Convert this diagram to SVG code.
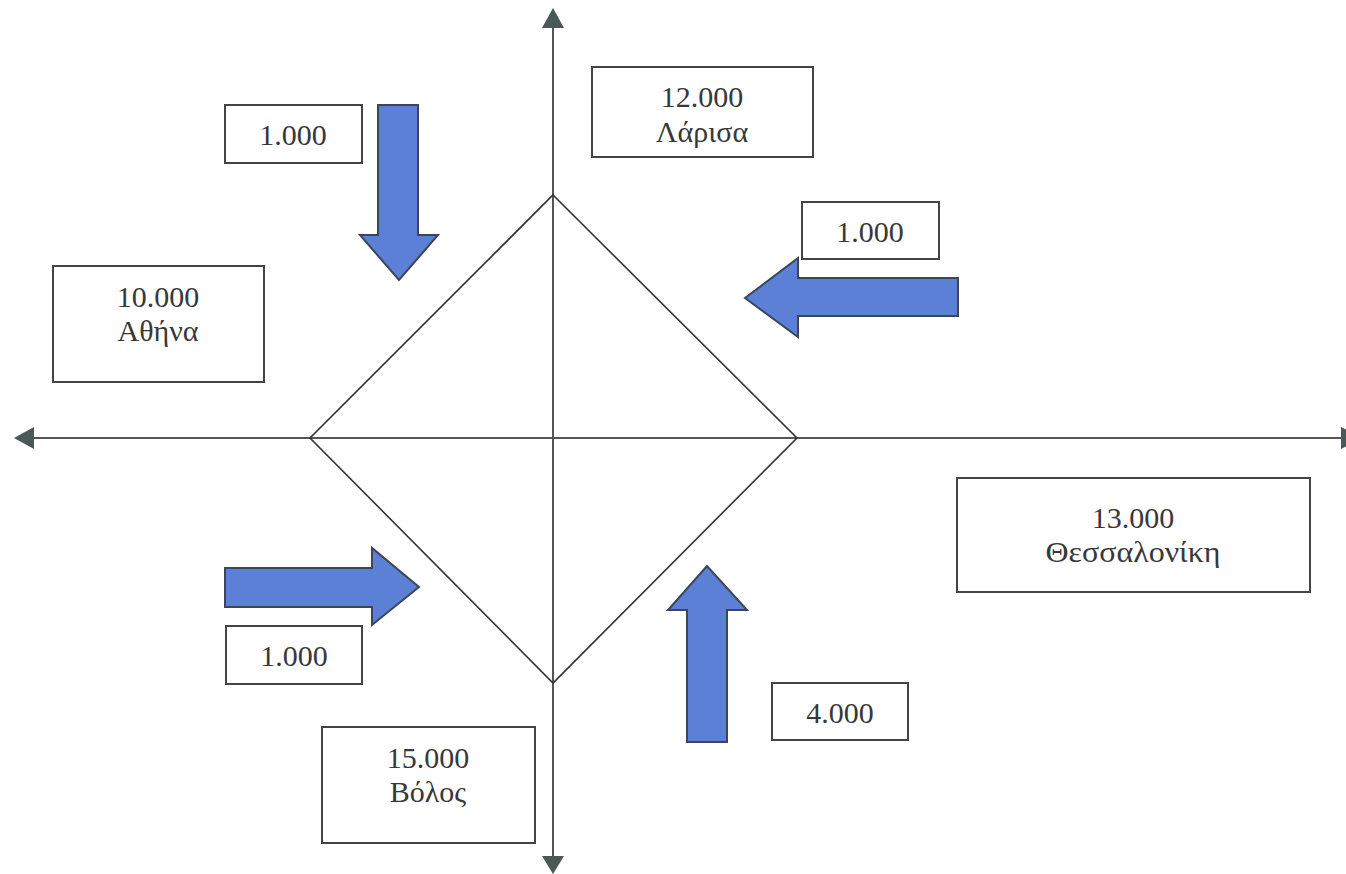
<svg xmlns="http://www.w3.org/2000/svg" width="1346" height="874" viewBox="0 0 1346 874">
<style>
.box{fill:#fff;stroke:#444;stroke-width:2}
.t{font-family:"Liberation Serif","Times New Roman",serif;font-size:30px;fill:#383838;text-anchor:middle}
.ax{stroke:#555;stroke-width:2;fill:none}
.dm{stroke:#333;stroke-width:1.6;fill:none}
.ar{fill:#5b80d6;stroke:#3b4656;stroke-width:2;stroke-linejoin:miter}
.ah{fill:#4c5855;stroke:none}
</style>
<rect width="1346" height="874" fill="#fff"/>
<g id="connectors">
<line class="ax" x1="553" y1="26" x2="553" y2="858"/>
<line class="ax" x1="32" y1="438" x2="1343" y2="438"/>
<polygon class="ah" points="553,8 542,28 564,28"/>
<polygon class="ah" points="553,874 542,856 564,856"/>
<polygon class="ah" points="14,438 34,427 34,449"/>
<polygon class="ah" points="1362,438 1341,427 1341,449"/>
<polygon class="dm" points="553,195 797,438 553,683 310,438"/>
</g>
<g id="arrow-down"><polygon class="ar" points="378,105 418,105 418,235 438,235 399,280 360,235 378,235"/></g>
<g id="arrow-left"><polygon class="ar" points="958,278 958,316 798,316 798,337 745,298 798,258 798,278"/></g>
<g id="arrow-right"><polygon class="ar" points="225,568 372,568 372,548 419,587 372,625 372,607 225,607"/></g>
<g id="arrow-up"><polygon class="ar" points="687,742 727,742 727,610 747,610 707,566 668,610 687,610"/></g>
<g id="box-1000-tl"><rect class="box" x="225" y="105" width="137" height="58"/><text class="t" x="293" y="145">1.000</text></g>
<g id="box-larisa"><rect class="box" x="592" y="67" width="221" height="90"/><text class="t" x="702" y="107">12.000</text><text class="t" x="702" y="142">Λάρισα</text></g>
<g id="box-1000-r"><rect class="box" x="802" y="202" width="137" height="57"/><text class="t" x="870" y="242">1.000</text></g>
<g id="box-athina"><rect class="box" x="53" y="266" width="211" height="116"/><text class="t" x="158" y="307">10.000</text><text class="t" x="158" y="341">Αθήνα</text></g>
<g id="box-thessaloniki"><rect class="box" x="957" y="478" width="353" height="114"/><text class="t" x="1133" y="528">13.000</text><text class="t" x="1133" y="562" textLength="175" lengthAdjust="spacingAndGlyphs">Θεσσαλονίκη</text></g>
<g id="box-1000-bl"><rect class="box" x="226" y="626" width="136" height="58"/><text class="t" x="294" y="666">1.000</text></g>
<g id="box-4000"><rect class="box" x="772" y="683" width="136" height="57"/><text class="t" x="840" y="723">4.000</text></g>
<g id="box-volos"><rect class="box" x="322" y="727" width="213" height="116"/><text class="t" x="428" y="768">15.000</text><text class="t" x="428" y="802">Βόλος</text></g>
</svg>
